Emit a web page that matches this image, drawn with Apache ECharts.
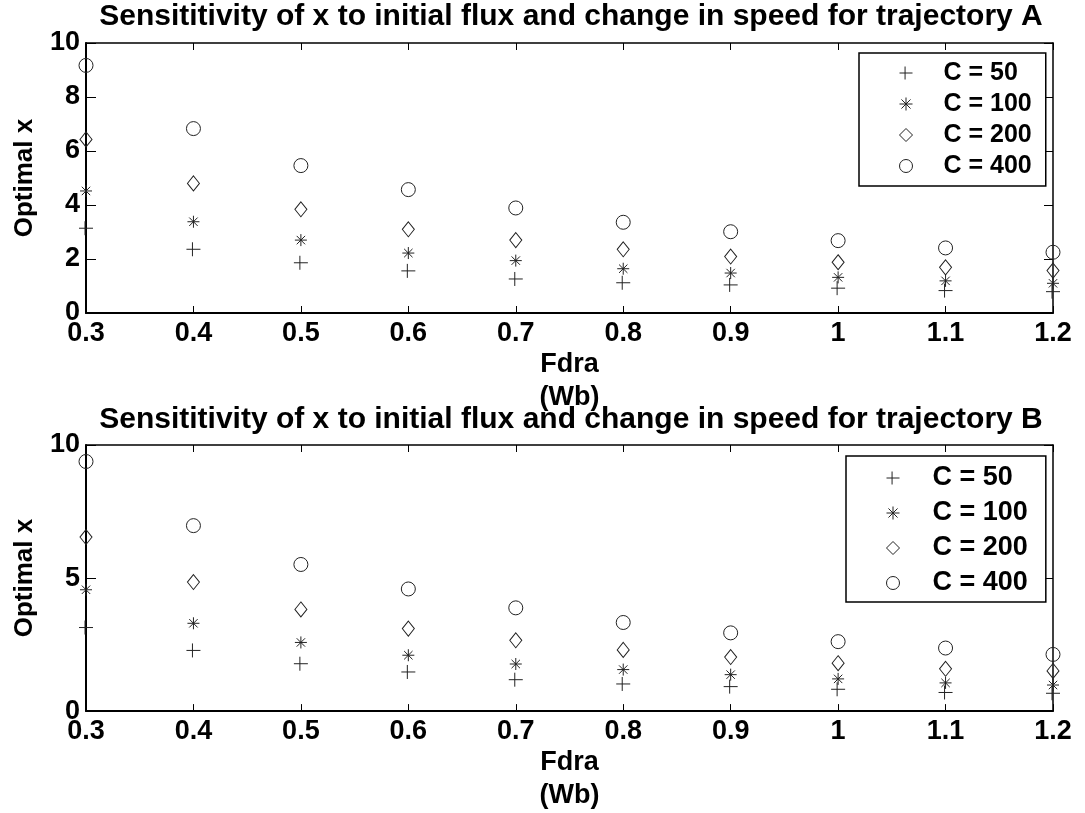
<!DOCTYPE html>
<html>
<head>
<meta charset="utf-8">
<script src="https://cdn.jsdelivr.net/npm/echarts@6/dist/echarts.min.js"></script>
<style>
html,body{margin:0;padding:0;background:#fff;}
#chart{width:1085px;height:813px;}
</style>
</head>
<body>
<div id="chart"></div>
<script>
// ---- data ----
const xValues = [0.3, 0.4, 0.5, 0.6, 0.7, 0.8, 0.9, 1.0, 1.1, 1.2];
const seriesNames = ['C = 50', 'C = 100', 'C = 200', 'C = 400'];
// Trajectory A
const a50  = [3.14, 2.36, 1.86, 1.56, 1.26, 1.12, 1.04, 0.92, 0.83, 0.79];
const a100 = [4.52, 3.38, 2.70, 2.22, 1.94, 1.64, 1.48, 1.32, 1.19, 1.10];
const a200 = [6.43, 4.80, 3.84, 3.10, 2.70, 2.36, 2.09, 1.88, 1.69, 1.57];
const a400 = [9.17, 6.83, 5.46, 4.57, 3.89, 3.36, 3.01, 2.68, 2.41, 2.25];
// Trajectory B
const b50  = [3.14, 2.28, 1.78, 1.47, 1.18, 1.02, 0.92, 0.82, 0.70, 0.67];
const b100 = [4.56, 3.30, 2.58, 2.10, 1.77, 1.56, 1.37, 1.21, 1.06, 0.98];
const b200 = [6.54, 4.85, 3.82, 3.10, 2.66, 2.30, 2.03, 1.80, 1.59, 1.51];
const b400 = [9.38, 6.97, 5.51, 4.59, 3.88, 3.33, 2.94, 2.61, 2.37, 2.13];
const titles = [
  'Sensititivity of x to initial flux and change in speed for trajectory A',
  'Sensititivity of x to initial flux and change in speed for trajectory B'
];
const xName = 'Fdra\n(Wb)';
const yName = 'Optimal x';

// ---- styles ----
const FONT = '"Liberation Sans", Arial, Helvetica, sans-serif';
const symbols = [
  { symbol: 'path://M0,7L14,7M6,0L6,14', size: 14 },
  { symbol: 'path://M0,5L10,5M5,0L5,10M1.5,1.5L8.5,8.5M1.5,8.5L8.5,1.5', size: 12 },
  { symbol: 'diamond', size: [12, 15] },
  { symbol: 'circle', size: 14 }
];

function pairs(arr) { return xValues.map((x, i) => [x, arr[i]]); }

const grids = [
  { left: 86, right: 32, top: 43, height: 270 },
  { left: 86, right: 32, top: 445, height: 270 }
];

const xAxes = [], yAxes = [];
grids.forEach((g, gi) => {
  xAxes.push({
    type: 'value', gridIndex: gi, min: 0.3, max: 1.2, interval: 0.1, position: 'bottom',
    name: xName, nameLocation: 'middle', nameGap: 30,
    nameTextStyle: { fontFamily: FONT, fontWeight: 'bold', fontSize: 27, color: '#000', lineHeight: 33 },
    axisLine: { show: true, onZero: false, lineStyle: { color: '#000', width: 2 } },
    axisTick: { show: true, inside: true, length: 7, lineStyle: { color: '#000', width: 1 } },
    axisLabel: { fontFamily: FONT, fontWeight: 'bold', fontSize: 27, color: '#000', margin: 7 },
    splitLine: { show: false }
  });
  xAxes.push({
    type: 'value', gridIndex: gi, min: 0.3, max: 1.2, interval: 0.1, position: 'top',
    axisLine: { show: true, onZero: false, lineStyle: { color: '#000', width: 1.5 } },
    axisTick: { show: true, inside: true, length: 7, lineStyle: { color: '#000', width: 1 } },
    axisLabel: { show: false }, splitLine: { show: false }
  });
  const interval = gi === 0 ? 2 : 5;
  yAxes.push({
    type: 'value', gridIndex: gi, min: 0, max: 10, interval: interval, position: 'left',
    name: yName, nameLocation: 'middle', nameGap: 48, nameRotate: 90,
    nameTextStyle: { fontFamily: FONT, fontWeight: 'bold', fontSize: 26, color: '#000' },
    axisLine: { show: true, onZero: false, lineStyle: { color: '#000', width: 2 } },
    axisTick: { show: true, inside: true, length: 10, lineStyle: { color: '#000', width: 1 } },
    axisLabel: { fontFamily: FONT, fontWeight: 'bold', fontSize: 27, color: '#000', margin: 6 },
    splitLine: { show: false }
  });
  yAxes.push({
    type: 'value', gridIndex: gi, min: 0, max: 10, interval: interval, position: 'right',
    axisLine: { show: true, onZero: false, lineStyle: { color: '#000', width: 1.5 } },
    axisTick: { show: true, inside: true, length: 9, lineStyle: { color: '#000', width: 1 } },
    axisLabel: { show: false }, splitLine: { show: false }
  });
});

const dataSets = [[a50, a100, a200, a400], [b50, b100, b200, b400]];
const series = [];
dataSets.forEach((set, gi) => {
  set.forEach((arr, si) => {
    series.push({
      type: 'scatter', name: seriesNames[si],
      xAxisIndex: gi * 2, yAxisIndex: gi * 2,
      data: pairs(arr),
      symbol: symbols[si].symbol, symbolSize: symbols[si].size,
      clip: false,
      itemStyle: { color: 'rgba(0,0,0,0)', borderColor: '#222', borderWidth: 1, opacity: 1 },
      emphasis: { disabled: true }
    });
  });
});

const legendBase = {
  orient: 'vertical', show: true,
  borderColor: '#000', borderWidth: 1.5, backgroundColor: '#fff',
  itemWidth: 13, itemHeight: 13, selectedMode: false,
  inactiveColor: '#000',
  itemStyle: { borderWidth: 1, borderColor: '#222', color: 'rgba(0,0,0,0)' }
};

const option = {
  animation: false,
  backgroundColor: '#fff',
  title: [
    { text: titles[0], left: 571, top: 2, textAlign: 'center',
      textStyle: { fontFamily: FONT, fontWeight: 'bold', fontSize: 30, color: '#000', lineHeight: 30 }, padding: 0 },
    { text: titles[1], left: 571, top: 405, textAlign: 'center',
      textStyle: { fontFamily: FONT, fontWeight: 'bold', fontSize: 30, color: '#000', lineHeight: 30 }, padding: 0 }
  ],
  grid: grids,
  xAxis: xAxes,
  yAxis: yAxes,
  legend: [
    Object.assign({}, legendBase, {
      left: 859, top: 53, padding: [7, 14, 7, 40], itemGap: 5,
      data: seriesNames.map((n) => ({ name: n })),
      textStyle: { fontFamily: FONT, fontWeight: 'bold', fontSize: 25, color: '#000', lineHeight: 26, padding: [0, 0, 0, 26] }
    }),
    Object.assign({}, legendBase, {
      left: 846, top: 456, padding: [8, 18, 5, 40], itemGap: 7,
      data: seriesNames.map((n) => ({ name: n })),
      textStyle: { fontFamily: FONT, fontWeight: 'bold', fontSize: 27, color: '#000', lineHeight: 28, padding: [0, 0, 0, 28] }
    })
  ],
  series: series
};

const chart = echarts.init(document.getElementById('chart'), null, { renderer: 'canvas' });
chart.setOption(option);
</script>
</body>
</html>
